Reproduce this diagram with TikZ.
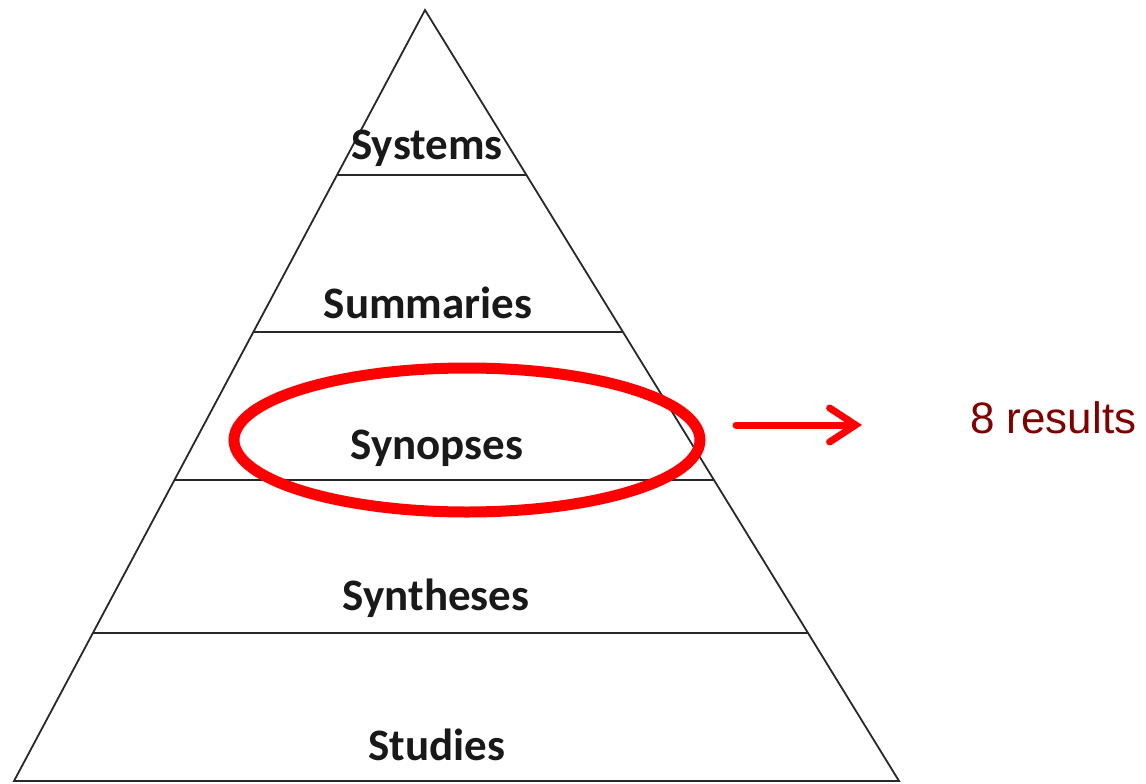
\documentclass[tikz,border=0pt]{standalone}
\usepackage{fontspec}
\newfontfamily\labelfont{Carlito}
\newfontfamily\handfont{Liberation Sans}
\usetikzlibrary{arrows.meta}
\definecolor{darkred}{RGB}{128,0,0}
\definecolor{edge}{RGB}{40,40,40}
\tikzset{
  tier/.style={font=\labelfont\bfseries\fontsize{45}{50}\selectfont, text=black!90, inner sep=0pt},
  edgeline/.style={draw=edge, line width=1.8pt},
  ring/.style={draw=red, line width=11pt},
  pointer/.style={draw=red, line width=7pt, line cap=round, -{Straight Barb[length=26pt,width=34pt,line cap=round]}},
}
\begin{document}
\begin{tikzpicture}[x=1pt,y=-1pt]
\useasboundingbox (0,0) rectangle (1146,784);
\coordinate (apex) at (425,10);
\coordinate (bl) at (14,781);
\coordinate (br) at (899,781);
\draw[edgeline, line join=miter] (bl) -- (apex) -- (br) -- cycle;
\coordinate (l1) at (337,175); \coordinate (r1) at (526,175);
\coordinate (l2) at (253,332); \coordinate (r2) at (622,332);
\coordinate (l3) at (174,480); \coordinate (r3) at (714,480);
\coordinate (l4) at (93,633);  \coordinate (r4) at (808,633);
\draw[edgeline] (l1) -- (r1);
\draw[edgeline] (l2) -- (r2);
\draw[edgeline] (l3) -- (r3);
\draw[edgeline] (l4) -- (r4);
\node[tier] (systems) at (427,148) {Systems};
\node[tier] (summaries) at (428,303) {Summaries};
\node[tier] (synopses) at (437,448) {Synopses};
\node[tier] (syntheses) at (436,598) {Syntheses};
\node[tier] (studies) at (437,745) {Studies};
\draw[ring] (467,440) ellipse [x radius=233, y radius=72];
\coordinate (astart) at (736,425);
\node[font=\handfont\fontsize{44}{48}\selectfont, text=darkred, inner sep=0pt, anchor=west] (results) at (970,418) {8 results};
\coordinate (aend) at (862,425);
\draw[pointer] (astart) -- (aend);
\end{tikzpicture}
\end{document}
